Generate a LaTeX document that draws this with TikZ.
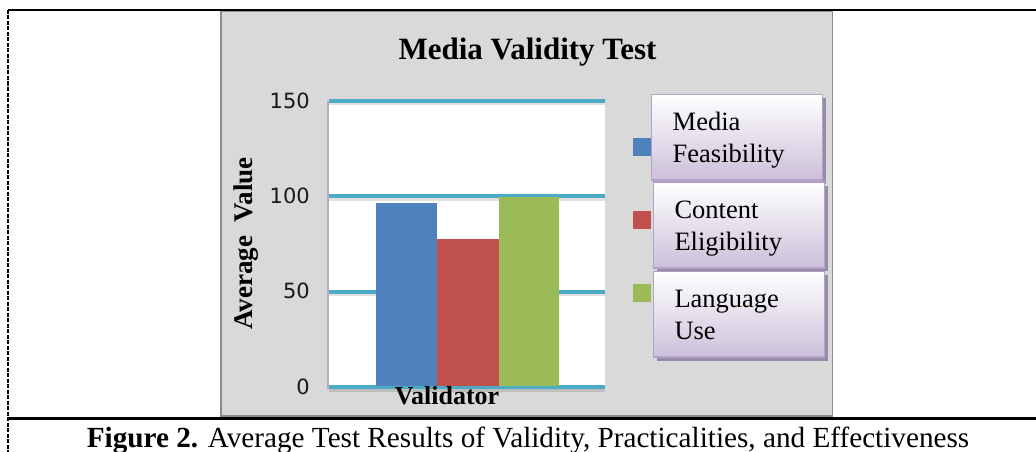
\documentclass[tikz,border=0pt]{standalone}
\usepackage{fontspec}
\setmainfont{Liberation Serif}
\newfontfamily\tickfont{DejaVu Sans}
\usepackage{tikz}
\usetikzlibrary{positioning, shadows}
\definecolor{chartgray}{RGB}{217,217,217}
\definecolor{framegray}{RGB}{140,140,140}
\definecolor{gridteal}{RGB}{75,172,198}
\definecolor{barblue}{RGB}{79,129,189}
\definecolor{barred}{RGB}{192,80,77}
\definecolor{bargreen}{RGB}{155,187,89}
\definecolor{legendlav}{RGB}{204,192,218}
\definecolor{legendedge}{RGB}{179,162,199}
\definecolor{legendshade}{RGB}{150,140,168}
\tikzset{
	gridline/.style={line width=4pt, gridteal},
	gridshadow/.style={line width=3pt, black, opacity=0.12},
	ticklabel/.style={anchor=east, inner sep=0pt, font=\tickfont\fontsize{21}{25}\selectfont, text=black!90},
	legendbox/.style={draw=legendedge, line width=1.5pt, top color=white, bottom color=legendlav,
		minimum width=171pt, minimum height=85.7pt, text width=129pt, inner xsep=21pt, inner ysep=0pt,
		align=left, text height=19pt, text depth=31.7pt, font=\fontsize{26.5}{31.7}\selectfont,
		drop shadow={shadow xshift=3.5pt, shadow yshift=-3.5pt, fill=legendshade, opacity=1}},
	legendkey/.style={minimum size=18pt, inner sep=0pt}
}

\begin{document}
\begin{tikzpicture}[x=1pt, y=-1pt]
\useasboundingbox (0,0) rectangle (1036,452);
\pgfmathsetmacro{\yzero}{387.3}
\pgfmathsetmacro{\yunit}{1.91}

% Chart area
\draw[fill=chartgray, draw=framegray, line width=1.5pt] (221,11.5) rectangle (832.5,416);
\fill[white] (329,100.8) rectangle (605,\yzero);
\draw[black!30, line width=1.5pt] (328,101) -- (328,389);

% Grid lines
\foreach \val in {0,50,100,150}{
	\pgfmathsetmacro{\gy}{\yzero-\val*\yunit}
	\draw[gridshadow] (329,\gy+3) -- (605,\gy+3);
	\draw[gridline] (329,\gy) -- (605,\gy);
}

% Bars
\pgfmathsetmacro{\feasTop}{\yzero-96.6*\yunit}
\pgfmathsetmacro{\eligTop}{\yzero-77.8*\yunit}
\pgfmathsetmacro{\langTop}{\yzero-99.8*\yunit}
\fill[barblue] (375.7,385.5) rectangle (437.3,\feasTop);
\fill[barred] (437.3,385.5) rectangle (499.3,\eligTop);
\fill[bargreen] (499.3,385.5) rectangle (559.3,\langTop);

% Tick labels
\node[ticklabel] (t150) at (310,100.8) {150};
\node[ticklabel] (t100) at (310,195.5) {100};
\node[ticklabel] (t50) at (310,291) {50};
\node[ticklabel] (t0) at (310,387.3) {0};

% Titles
\node[anchor=base, inner sep=0pt, font=\bfseries\fontsize{31}{36}\selectfont] (title) at (527.5,59.3) {Media Validity Test};
\node[anchor=base, inner sep=0pt, font=\bfseries\fontsize{26}{30}\selectfont] (xlabel) at (447,404) {Validator};
\node[rotate=90, inner sep=0pt, font=\bfseries\fontsize{27}{30}\selectfont] (ylabel) at (246,243.5) {Average\ \ Value};

% Legend
\node[legendbox] (feas) at (737.2,137.2) {Media\\Feasibility};
\node[legendbox] (elig) at (739,225) {Content\\Eligibility};
\node[legendbox] (lang) at (739,314.2) {Language\\Use};
\node[legendkey, fill=barblue] (kfeas) at (642,147) {};
\node[legendkey, fill=barred] (kelig) at (642,220.3) {};
\node[legendkey, fill=bargreen] (klang) at (642,293) {};

% Table rules
\draw[line width=2.5pt] (8,10) -- (1036,10);
\draw[line width=2.7pt] (8,418.7) -- (1036,418.7);
\draw[line width=1.5pt, dash pattern=on 4pt off 1.5pt] (8,10) -- (8,452);

% Caption
\node[anchor=base, inner sep=0pt, font=\fontsize{29.2}{34}\selectfont] (caption) at (528,447) {\textbf{Figure 2.} Average Test Results of Validity, Practicalities, and Effectiveness};
\end{tikzpicture}
\end{document}
